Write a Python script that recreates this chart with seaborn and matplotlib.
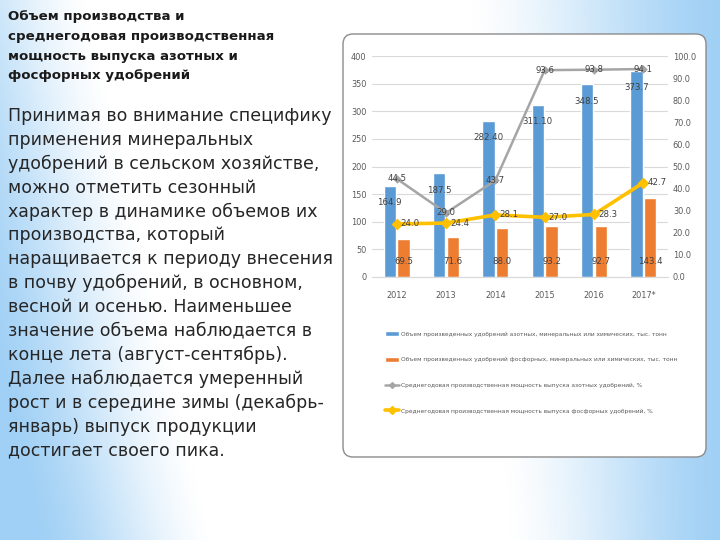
import numpy as np
import pandas as pd
import matplotlib
matplotlib.use("Agg")
import matplotlib.pyplot as plt
import matplotlib.transforms as mtransforms
from matplotlib import font_manager
from matplotlib.patches import FancyBboxPatch, Patch
from matplotlib.lines import Line2D
import seaborn as sns

# ---------------- data ----------------
years = ["2012", "2013", "2014", "2015", "2016", "2017*"]
nitrogen_volume = [164.9, 187.5, 282.4, 311.1, 348.5, 373.7]
nitrogen_volume_labels = ["164.9", "187.5", "282.40", "311.10", "348.5", "373.7"]
phosphate_volume = [69.5, 71.6, 88.0, 93.2, 92.7, 143.4]
nitrogen_capacity = [44.5, 29.0, 43.7, 93.6, 93.8, 94.1]
phosphate_capacity = [24.0, 24.4, 28.1, 27.0, 28.3, 42.7]

series_names = [
    "Объем произведенных удобрений азотных, минеральных или химических, тыс. тонн",
    "Объем произведенных удобрений фосфорных, минеральных или химических, тыс. тонн",
    "Среднегодовая производственная мощность выпуска азотных удобрений, %",
    "Среднегодовая производственная мощность выпуска фосфорных удобрений, %",
]
left_ticks = [0, 50, 100, 150, 200, 250, 300, 350, 400]
right_ticks = [0, 10, 20, 30, 40, 50, 60, 70, 80, 90, 100]

title = ("Объем производства и\nсреднегодовая производственная\n"
         "мощность выпуска азотных и\nфосфорных удобрений")
body = ("Принимая во внимание специфику\nприменения минеральных\n"
        "удобрений в сельском хозяйстве,\nможно отметить сезонный\n"
        "характер в динамике объемов их\nпроизводства, который\n"
        "наращивается к периоду внесения\nв почву удобрений, в основном,\n"
        "весной и осенью. Наименьшее\nзначение объема наблюдается в\n"
        "конце лета (август-сентябрь).\nДалее наблюдается умеренный\n"
        "рост и в середине зимы (декабрь-\nянварь) выпуск продукции\n"
        "достигает своего пика.")

BLUE = "#5b9bd5"
ORANGE = "#ed7d31"
GRAY = "#a5a5a5"
YELLOW = "#ffc000"
LABEL_C = "#404040"
TICK_C = "#595959"

# ---------------- style ----------------
sns.set_style("white")
names = {f.name for f in font_manager.fontManager.ttflist}
NARROW = "Liberation Sans Narrow" if "Liberation Sans Narrow" in names else "DejaVu Sans"
narrow_scale = 1.0 if NARROW == "Liberation Sans Narrow" else 0.78
plt.rcParams["font.family"] = ["DejaVu Sans"]

W, H = 720, 540
fig = plt.figure(figsize=(W / 100, H / 100), dpi=100)

# background gradient
bg = fig.add_axes([0, 0, 1, 1], zorder=-10)
yy, xx = np.mgrid[0:H, 0:W].astype(float)
cL = 85 + 125 * (yy / H)
tL = np.clip((cL - xx) / 170.0, 0, 1)
cR = 470 + 40 * (yy / H)
tR = np.clip((xx - cR) / (W - cR), 0, 1)
t = np.maximum(tL, tR)
t = t * t * (3 - 2 * t) * 0.5 + t * 0.5
edge = np.array([160, 208, 245]) / 255.0
img = (1 - t[..., None]) * np.ones(3) + t[..., None] * edge
bg.imshow(img, aspect="auto", extent=[0, 1, 0, 1], origin="upper")
bg.set_axis_off()

# chart box
px = mtransforms.Affine2D().scale(1 / W, 1 / H) + fig.transFigure
box = FancyBboxPatch((343, H - 457), 363, 423,
                     boxstyle="round,pad=0,rounding_size=10",
                     transform=px, facecolor="white", edgecolor="#8c8c8c",
                     linewidth=1.0, zorder=-5)
fig.add_artist(box)

# texts
fig.text(8 / W, 1 - 10 / H, title, ha="left", va="top", fontsize=9.6,
         fontweight="bold", color="#1a1a1a", linespacing=1.68)
fig.text(8 / W, 1 - 107 / H, body, ha="left", va="top", fontsize=12.5,
         color="#262626", linespacing=1.41)

# ---------------- chart ----------------
ax = fig.add_axes([372 / W, 1 - 277 / H, (668 - 372) / W, (277 - 56) / H])
ax.patch.set_alpha(0)

bars = pd.DataFrame({
    "year": years * 2,
    "value": nitrogen_volume + phosphate_volume,
    "series": [series_names[0]] * len(years) + [series_names[1]] * len(years),
})
sns.barplot(data=bars, x="year", y="value", hue="series",
            palette=[BLUE, ORANGE], width=0.56, gap=0.12, saturation=1,
            legend=False, ax=ax)
ax.set_ylim(0, 400)
ax.set_xlim(-0.5, len(years) - 0.5)
ax.set_yticks(left_ticks)
ax.grid(axis="y", color="#d9d9d9", linewidth=0.8)
ax.set_axisbelow(True)
for s in ["top", "left", "right"]:
    ax.spines[s].set_visible(False)
ax.spines["bottom"].set_color("#d9d9d9")
ax.tick_params(length=0)
ax.tick_params(axis="x", pad=10)
ax.tick_params(axis="y", pad=4)
ax.set_xlabel("")
ax.set_ylabel("")
fs_tick = 7.5 * narrow_scale
for lab in ax.get_xticklabels() + ax.get_yticklabels():
    lab.set_fontfamily(NARROW)
    lab.set_fontsize(fs_tick)
    lab.set_color(TICK_C)

fs_lab = 8 * narrow_scale
for rect, lab in zip(ax.containers[0], nitrogen_volume_labels):
    ax.annotate(lab, (rect.get_x() + rect.get_width() / 2, rect.get_height()),
                xytext=(0, -12), textcoords="offset points", ha="center",
                va="center", fontsize=fs_lab, family=NARROW, color=LABEL_C)
for rect, v in zip(ax.containers[1], phosphate_volume):
    ax.annotate(f"{v:.1f}", (rect.get_x() + rect.get_width() / 2, 0),
                xytext=(0, 11), textcoords="offset points", ha="center",
                va="center", fontsize=fs_lab, family=NARROW, color=LABEL_C)

ax2 = ax.twinx()
lines = pd.DataFrame({
    "year": years * 2,
    "value": nitrogen_capacity + phosphate_capacity,
    "series": [series_names[2]] * len(years) + [series_names[3]] * len(years),
})
sns.pointplot(data=lines[lines.series == series_names[2]], x="year", y="value",
              color=GRAY, markers="D", markersize=3, linewidth=1.8,
              errorbar=None, ax=ax2)
sns.pointplot(data=lines[lines.series == series_names[3]], x="year", y="value",
              color=YELLOW, markers="D", markersize=4, linewidth=2.6,
              errorbar=None, ax=ax2)
ax2.set_ylim(0, 100)
ax2.set_xlim(-0.5, len(years) - 0.5)
ax2.set_yticks(right_ticks)
ax2.set_yticklabels([f"{v:.1f}" for v in right_ticks])
ax2.tick_params(length=0, pad=3.5)
for s in ["top", "left", "right", "bottom"]:
    ax2.spines[s].set_visible(False)
ax2.set_ylabel("")
ax2.grid(False)
for lab in ax2.get_yticklabels():
    lab.set_fontfamily(NARROW)
    lab.set_fontsize(fs_tick)
    lab.set_color(TICK_C)

for i, v in enumerate(nitrogen_capacity):
    ax2.annotate(f"{v:.1f}", (i, v), xytext=(0, 0), textcoords="offset points",
                 ha="center", va="center", fontsize=fs_lab, family=NARROW,
                 color=LABEL_C)
for i, v in enumerate(phosphate_capacity):
    ax2.annotate(f"{v:.1f}", (i, v), xytext=(3, 0), textcoords="offset points",
                 ha="left", va="center", fontsize=fs_lab, family=NARROW,
                 color=LABEL_C)

handles = [
    Patch(facecolor=BLUE),
    Patch(facecolor=ORANGE),
    Line2D([0], [0], color=GRAY, lw=1.8, marker="D", markersize=3),
    Line2D([0], [0], color=YELLOW, lw=2.6, marker="D", markersize=4),
]
leg_fs = 5.4 * narrow_scale
leg = fig.legend(handles, series_names, loc="upper left",
                 bbox_to_anchor=(383 / W, 1 - 329 / H), frameon=False,
                 prop={"family": NARROW, "size": leg_fs},
                 labelspacing=3.45, handlelength=2.3, handleheight=0.9,
                 handletextpad=0.3, borderaxespad=0)
for txt in leg.get_texts():
    txt.set_color(TICK_C)

fig.savefig("out.png", dpi=100)
